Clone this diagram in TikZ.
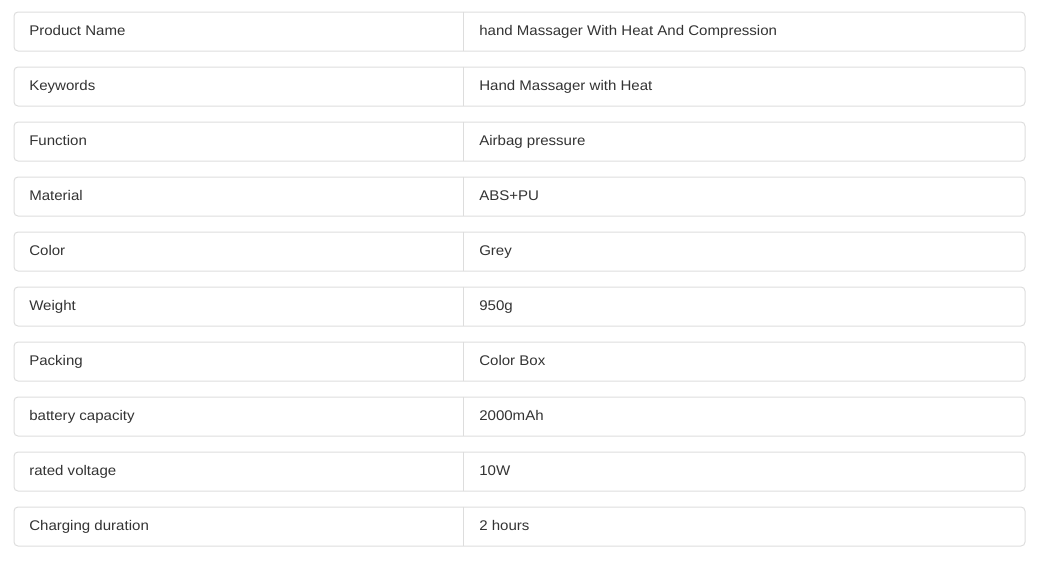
\documentclass[tikz,border=0pt]{standalone}
\usepackage{fontspec}
\setmainfont[FakeStretch=1.075]{Liberation Sans}
\usepackage{tikz}
\usetikzlibrary{positioning,calc}
\definecolor{linegray}{HTML}{DDDDDD}
\definecolor{textgray}{HTML}{333333}
\begin{document}
\begin{tikzpicture}[x=0.75pt,y=-0.75pt,
rowbox/.style = {draw=linegray, line width=0.75pt, rounded corners=3pt, minimum width=758.25pt, minimum height=29.25pt, inner sep=0pt, anchor=north west},
cell/.style = {anchor=base west, inner sep=0pt, text=textgray, font=\fontsize{10.5pt}{12pt}\selectfont},]
\useasboundingbox (0,0) rectangle (1037,571);
\foreach \i/\key/\val in {0/Product Name/hand Massager With Heat And Compression,1/Keywords/Hand Massager with Heat,2/Function/Airbag pressure,3/Material/ABS+PU,4/Color/Grey,5/Weight/950g,6/Packing/Color Box,7/battery capacity/2000mAh,8/rated voltage/10W,9/Charging duration/2 hours}{
\node (row\i) at (13.5,11.5+55*\i)[rowbox] {};
\node (key\i) at (29,35.5+55*\i)[cell] {\key};
\node (val\i) at (479,35.5+55*\i)[cell] {\val};
\coordinate (divtop\i) at (463.5,11.5+55*\i);
\coordinate (divbot\i) at (463.5,50.5+55*\i);
\draw[linegray,line width=0.75pt] (divtop\i)--(divbot\i);
}
\end{tikzpicture}
\end{document}
